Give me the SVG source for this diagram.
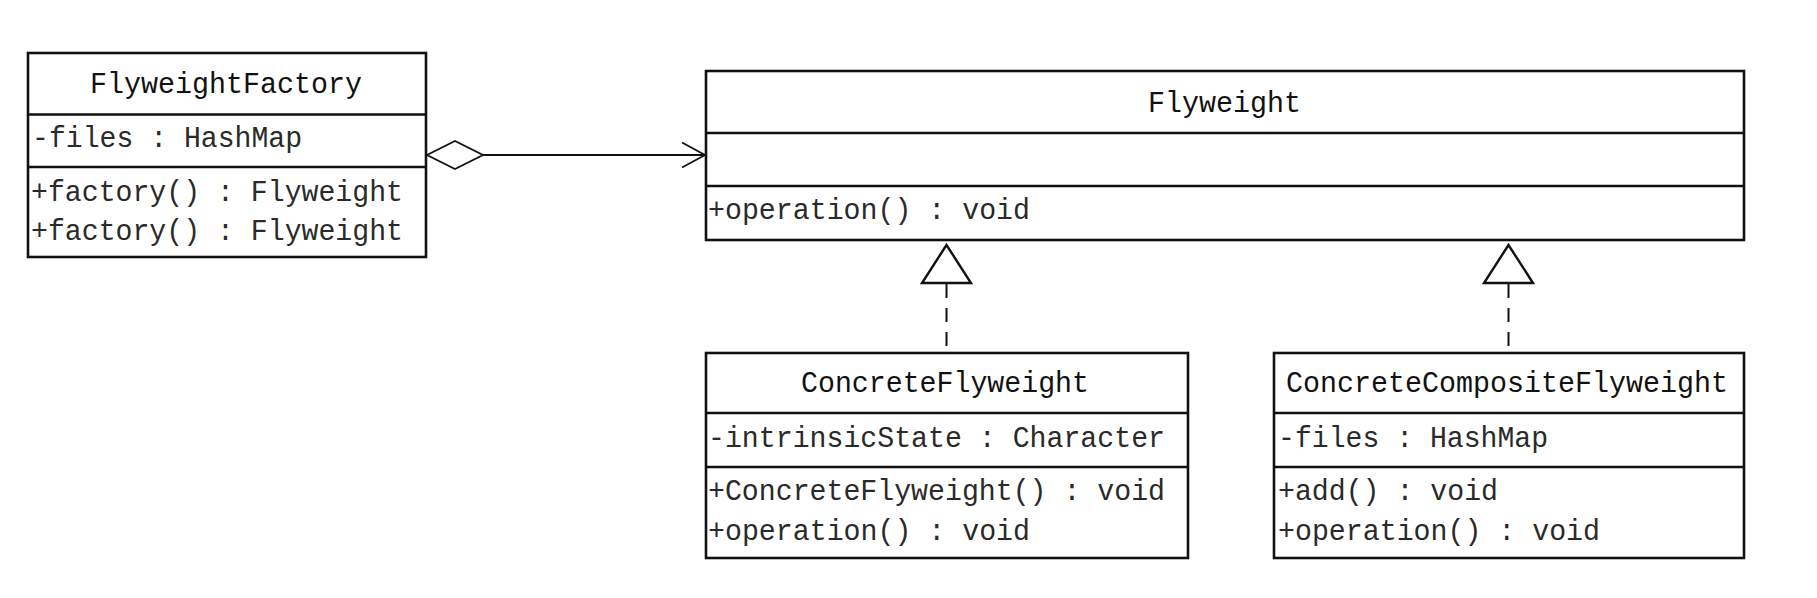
<svg xmlns="http://www.w3.org/2000/svg" width="1817" height="598" viewBox="0 0 1817 598">
<style>
.box{fill:#fff;stroke:#111;stroke-width:2.6}
.div{stroke:#111;stroke-width:2.6}
.t{font-family:"Liberation Mono","DejaVu Sans Mono",monospace;font-size:30px;fill:#111}
.m{font-family:"Liberation Mono","DejaVu Sans Mono",monospace;font-size:30px;fill:#2a2a2a}
.ln{stroke:#111;stroke-width:1.8;fill:none}
.dash{stroke:#111;stroke-width:2;fill:none;stroke-dasharray:14 10}
.tri{fill:#fff;stroke:#111;stroke-width:2.4;stroke-linejoin:miter}
</style>
<rect width="1817" height="598" fill="#fff"/>
<g id="connectors">
  <line class="ln" x1="483" y1="155" x2="705" y2="155"/>
  <polyline class="ln" points="682,142.5 705,155 682,167.5"/>
  <polygon class="ln" points="427,155 455,141 483,155 455,169" fill="#fff"/>
  <line class="dash" x1="946.5" y1="284" x2="946.5" y2="353"/>
  <polygon class="tri" points="946.5,245 922,283 971,283"/>
  <line class="dash" x1="1508.5" y1="284" x2="1508.5" y2="353"/>
  <polygon class="tri" points="1508.5,245 1484,283 1533,283"/>
</g>
<g id="FlyweightFactory">
  <rect class="box" x="28" y="53" width="398" height="204"/>
  <line class="div" x1="28" y1="114.5" x2="426" y2="114.5"/>
  <line class="div" x1="28" y1="167" x2="426" y2="167"/>
  <text class="t" x="90" y="93" textLength="272" lengthAdjust="spacingAndGlyphs">FlyweightFactory</text>
  <text class="m" x="32" y="147" textLength="270" lengthAdjust="spacingAndGlyphs">-files : HashMap</text>
  <text class="m" x="31" y="201" textLength="372" lengthAdjust="spacingAndGlyphs">+factory() : Flyweight</text>
  <text class="m" x="31" y="240" textLength="372" lengthAdjust="spacingAndGlyphs">+factory() : Flyweight</text>
</g>
<g id="Flyweight">
  <rect class="box" x="706" y="71" width="1038" height="169"/>
  <line class="div" x1="706" y1="133" x2="1744" y2="133"/>
  <line class="div" x1="706" y1="186" x2="1744" y2="186"/>
  <text class="t" x="1148" y="112" textLength="153" lengthAdjust="spacingAndGlyphs">Flyweight</text>
  <text class="m" x="708" y="219" textLength="322" lengthAdjust="spacingAndGlyphs">+operation() : void</text>
</g>
<g id="ConcreteFlyweight">
  <rect class="box" x="706" y="353" width="482" height="205"/>
  <line class="div" x1="706" y1="413" x2="1188" y2="413"/>
  <line class="div" x1="706" y1="467" x2="1188" y2="467"/>
  <text class="t" x="801" y="392" textLength="288" lengthAdjust="spacingAndGlyphs">ConcreteFlyweight</text>
  <text class="m" x="708" y="447" textLength="457" lengthAdjust="spacingAndGlyphs">-intrinsicState : Character</text>
  <text class="m" x="708" y="500" textLength="457" lengthAdjust="spacingAndGlyphs">+ConcreteFlyweight() : void</text>
  <text class="m" x="708" y="540" textLength="322" lengthAdjust="spacingAndGlyphs">+operation() : void</text>
</g>
<g id="ConcreteCompositeFlyweight">
  <rect class="box" x="1274" y="353" width="470" height="205"/>
  <line class="div" x1="1274" y1="413" x2="1744" y2="413"/>
  <line class="div" x1="1274" y1="467" x2="1744" y2="467"/>
  <text class="t" x="1286" y="392" textLength="442" lengthAdjust="spacingAndGlyphs">ConcreteCompositeFlyweight</text>
  <text class="m" x="1278" y="447" textLength="270" lengthAdjust="spacingAndGlyphs">-files : HashMap</text>
  <text class="m" x="1278" y="500" textLength="220" lengthAdjust="spacingAndGlyphs">+add() : void</text>
  <text class="m" x="1278" y="540" textLength="322" lengthAdjust="spacingAndGlyphs">+operation() : void</text>
</g>
</svg>
